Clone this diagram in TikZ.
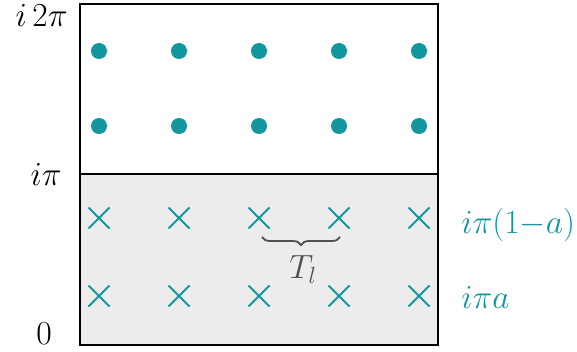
\documentclass[tikz,border=0pt]{standalone}
\usetikzlibrary{decorations.pathreplacing,shapes.misc}
\definecolor{teal1}{RGB}{18,150,160}
\definecolor{graybg}{RGB}{236,236,236}
\definecolor{bracegray}{RGB}{80,80,80}
\tikzset{
  pole/.style={circle,fill=teal1,inner sep=0pt,minimum size=16pt},
  zero/.style={cross out,draw=teal1,line width=2pt,inner sep=0pt,minimum size=19pt},
  lbl/.style={inner sep=0pt,font=\huge,scale=1.62},
}
\begin{document}
\begin{tikzpicture}[x=1pt,y=1pt]
\useasboundingbox (0,0) rectangle (577,351);
\fill[graybg] (80,6) rectangle (438,177);
\draw[line width=2.5pt] (80,6) rectangle (438,347);
\draw[line width=2.5pt] (80,177) -- (438,177);
\foreach \i/\x in {1/99,2/179,3/259,4/339,5/419}{
  \node[pole] (a\i) at (\x,300) {};
  \node[pole] (b\i) at (\x,225) {};
  \node[zero] (c\i) at (\x,133) {};
  \node[zero] (d\i) at (\x,55) {};
}
\node[lbl,anchor=base east] (l2) at (68,324) {$i\,2\pi$};
\node[lbl,anchor=base east] (l1) at (62,166) {$i\pi$};
\node[lbl,anchor=base east] (l0) at (52,6.5) {$0$};
\node[lbl,anchor=base west,text=teal1] (r1) at (461,118) {$i\pi(1{-}a)$};
\node[lbl,anchor=base west,text=teal1] (r0) at (461,43) {$i\pi a$};
\coordinate (bl) at (262,114);
\coordinate (br) at (340,114);
\draw[bracegray,line width=1.8pt,decorate,decoration={brace,mirror,amplitude=8pt}] (bl) -- (br);
\node[lbl,anchor=base,text=bracegray] (tl) at (303,73) {$T_l$};
\end{tikzpicture}
\end{document}
